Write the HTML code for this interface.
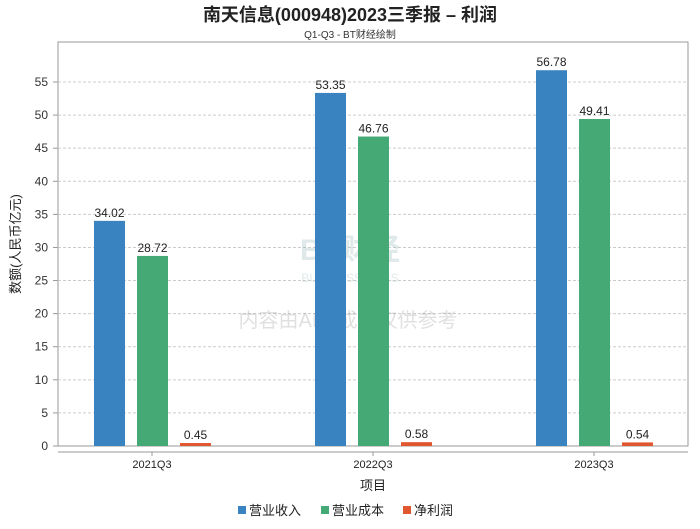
<!DOCTYPE html>
<html><head><meta charset="utf-8"><style>
body{margin:0;background:#fff;font-family:"Liberation Sans","Noto Sans CJK SC",sans-serif;}
svg text{font-family:"Liberation Sans","Noto Sans CJK SC",sans-serif;}
</style></head><body>
<svg id="c" width="700" height="524">
<text x="350" y="21" text-anchor="middle" font-size="18" font-weight="bold" fill="#222">南天信息(000948)2023三季报 – 利润</text>
<text x="350" y="38" text-anchor="middle" font-size="10" fill="#333">Q1-Q3 - BT财经绘制</text>
<rect x="58" y="42" width="630" height="404" fill="none" stroke="#999"/>
<g id="grid"></g>
<g id="wm" opacity="0.25">
<text x="350" y="260" text-anchor="middle" font-size="30" font-weight="bold" fill="#8aa">BT财经</text>
<text x="350" y="282" text-anchor="middle" font-size="12" fill="#8aa">BUSINESSTIMES</text>
<text x="348" y="327" text-anchor="middle" font-size="20" fill="#888">内容由AI生成，仅供参考</text>
</g>
<g id="bars"></g>
<line x1="58" y1="452" x2="688" y2="452" stroke="#999"/>
<text x="20" y="244" transform="rotate(-90 20 244)" text-anchor="middle" font-size="13" fill="#222">数额(人民币亿元)</text>
<text x="373" y="490" text-anchor="middle" font-size="13" fill="#222">项目</text>
<g id="legend"></g>
</svg>
<script>
const categories=["2021Q3","2022Q3","2023Q3"];
const seriesNames=["营业收入","营业成本","净利润"];
const revenue=[34.02,53.35,56.78];
const cost=[28.72,46.76,49.41];
const profit=[0.45,0.58,0.54];
const yTicks=[0,5,10,15,20,25,30,35,40,45,50,55];
const colors=["#3a83c1","#45a976","#e0562f"];
const NS="http://www.w3.org/2000/svg";
const y=v=>446-v*(364/55);
const x=i=>152+i*221;
function mk(t,a,p){const e=document.createElementNS(NS,t);for(const k in a)e.setAttribute(k,a[k]);p.appendChild(e);return e;}
const grid=document.getElementById('grid');
yTicks.forEach(v=>{
 if(v>0){const l=mk('line',{x1:58,x2:688,y1:y(v),y2:y(v),stroke:'#ccc','stroke-dasharray':'3,2'},grid);
 
 }
 const tk=mk('line',{x1:53,x2:58,y1:y(v),y2:y(v),stroke:'#999'},grid);
 
 
 const t=mk('text',{x:48,y:y(v)+4,'text-anchor':'end','font-size':12,fill:'#333'},grid);
 t.textContent=v;
 
 
});
const bars=document.getElementById('bars');
const series=[revenue,cost,profit];
categories.forEach((c,i)=>{
 series.forEach((s,j)=>{
  const bx=x(i)-58+j*43;
  const r=mk('rect',{x:bx,y:y(s[i]),width:31,height:446-y(s[i]),fill:colors[j]},bars);
  
  
  const t=mk('text',{x:bx+15.5,y:y(s[i])-4,'text-anchor':'middle','font-size':12,fill:'#222'},bars);
  t.textContent=s[i].toFixed(2);
  
  
 });
 const tk=mk('line',{x1:x(i),x2:x(i),y1:452,y2:456,stroke:'#999'},bars);
 
 
 const t=mk('text',{x:x(i),y:468,'text-anchor':'middle','font-size':11,fill:'#222'},bars);
 t.textContent=c;
 
 
});
const lg=document.getElementById('legend');
const lx=[238,321,403];
seriesNames.forEach((n,j)=>{
 const g=mk('g',{},lg);
 
 
 mk('rect',{x:lx[j],y:506,width:8,height:8,fill:colors[j]},g);
 const t=mk('text',{x:lx[j]+11,y:515,'font-size':13,fill:'#222'},g);
 t.textContent=n;
});
</script>
</body></html>
